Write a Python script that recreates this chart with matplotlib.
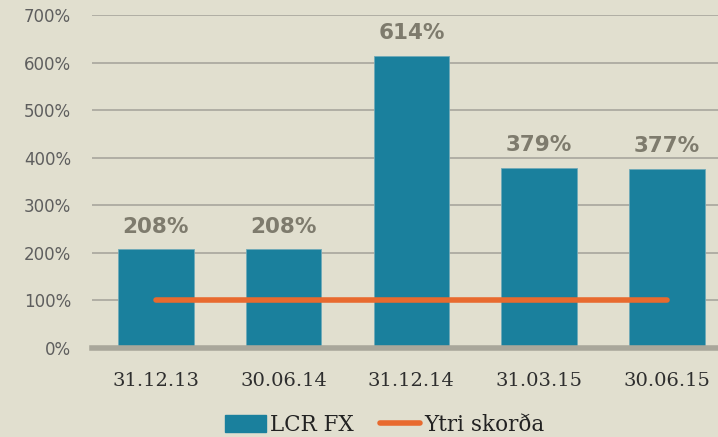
import matplotlib
matplotlib.use("Agg")
import matplotlib.pyplot as plt
from matplotlib.patches import Patch
from matplotlib.lines import Line2D

categories = ["31.12.13", "30.06.14", "31.12.14", "31.03.15", "30.06.15"]
lcr_fx = [208, 208, 614, 379, 377]
ytri_skorda = [100, 100, 100, 100, 100]
yticks = [0, 100, 200, 300, 400, 500, 600, 700]

BG = "#E1DFCF"
BAR = "#1A809D"
ORANGE = "#E86A2F"
GRID = "#B0AEA4"

fig = plt.figure(figsize=(7.18, 4.37), dpi=100, facecolor=BG)
ax = fig.add_axes([92/718, 1-348/437, 1-92/718, (348-15)/437])
ax.set_facecolor(BG)

x = list(range(len(categories)))
bars = ax.bar(x, lcr_fx, width=0.59, color=BAR, edgecolor="#6FAAB8", linewidth=0.6, zorder=3)
ax.plot(x, ytri_skorda, color=ORANGE, linewidth=4, solid_capstyle="round", zorder=4)

for xi, v in zip(x, lcr_fx):
    ax.annotate(f"{v}%", (xi, v), xytext=(0, 9), textcoords="offset points",
                ha="center", va="bottom", fontsize=15.5, fontweight="bold",
                color="#7E7B6D", family="DejaVu Sans")

ax.set_xlim(-0.5, 4.4)
ax.set_ylim(0, 700)
ax.set_yticks(yticks)
ax.set_yticklabels([f"{t}%" for t in yticks], fontsize=12, color="#5E5E5E")
ax.set_xticks(x)
ax.set_xticklabels(categories, fontsize=14, color="#2E2E2E", family="DejaVu Serif")
ax.tick_params(axis="y", length=0, pad=15)
ax.tick_params(axis="x", length=0, pad=17)
ax.yaxis.grid(True, color=GRID, linewidth=1.4, zorder=0)
ax.set_axisbelow(True)
for s in ["top", "right", "left"]:
    ax.spines[s].set_visible(False)
ax.spines["bottom"].set_color("#A9A79B")
ax.spines["bottom"].set_linewidth(4)
ax.spines["bottom"].set_zorder(5)

handles = [Patch(facecolor=BAR, edgecolor=BAR, label="LCR FX"),
           Line2D([0], [0], color=ORANGE, linewidth=4, solid_capstyle="round", label="Ytri skorða")]
leg = fig.legend(handles=handles, loc="center", bbox_to_anchor=(0.536, 1-425/437), ncol=2,
                 frameon=False, handlelength=1.9, handleheight=0.8,
                 columnspacing=1.2, handletextpad=0.2, prop={"family": "DejaVu Serif", "size": 15.5})
for t in leg.get_texts():
    t.set_color("#222222")

fig.savefig("out.png", dpi=100, facecolor=BG)
